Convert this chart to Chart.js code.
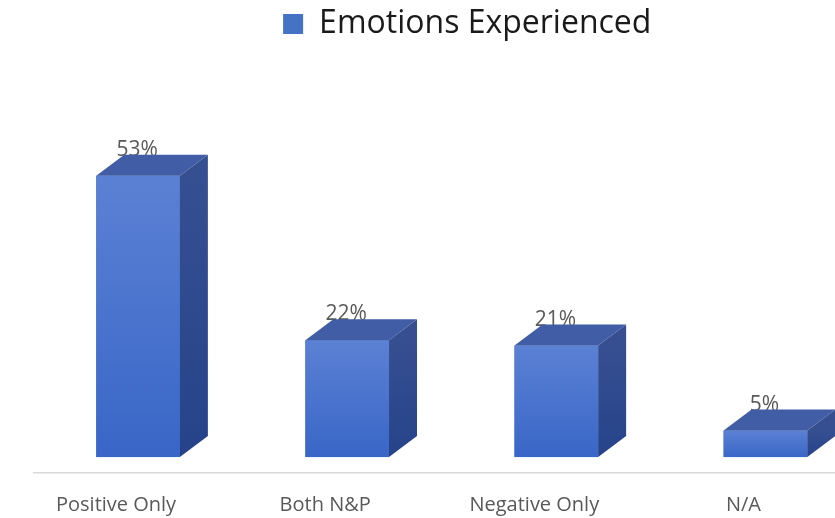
<!DOCTYPE html>
<html>
<head>
<meta charset="utf-8">
<script src="https://cdn.jsdelivr.net/npm/chart.js@4.4.1/dist/chart.umd.min.js"></script>
<style>
  body { margin: 0; overflow: hidden; background: #fff; }
</style>
</head>
<body>
<canvas id="bar" width="901" height="518"></canvas>
<script>
// chart data
const categories = ["Positive Only", "Both N&P", "Negative Only", "N/A"];
const values = [53, 22, 21, 5];
const seriesName = "Emotions Experienced";

// 3d look: depth of the box in px
const depthX = 28;
const depthY = 21;

// draws the front gradient, the value label, then the top and side faces of each bar
const bars3d = {
    id: 'bars3d',
    afterDatasetsDraw(chart) {
        const ctx = chart.ctx;
        const meta = chart.getDatasetMeta(0);
        meta.data.forEach((bar, i) => {
            const p = bar.getProps(['x', 'y', 'base', 'width'], true);
            const left = p.x - p.width / 2;
            const right = p.x + p.width / 2;

            // front face
            const g = ctx.createLinearGradient(0, p.y, 0, p.base);
            g.addColorStop(0, '#5b81d4');
            g.addColorStop(1, '#3966c7');
            ctx.save();
            ctx.fillStyle = g;
            ctx.fillRect(left, p.y, p.width, p.base - p.y);

            // value label (sits behind the top face)
            ctx.fillStyle = '#595959';
            ctx.font = '21px "Open Sans"';
            ctx.textAlign = 'center';
            ctx.textBaseline = 'middle';
            ctx.fillText(values[i] + '%', p.x - 1, p.y - 26);

            // top face
            ctx.fillStyle = '#405da6';
            ctx.beginPath();
            ctx.moveTo(left, p.y);
            ctx.lineTo(left + depthX, p.y - depthY);
            ctx.lineTo(right + depthX, p.y - depthY);
            ctx.lineTo(right, p.y);
            ctx.closePath();
            ctx.fill();

            // side face
            const s = ctx.createLinearGradient(0, p.y, 0, p.base);
            s.addColorStop(0, '#364f91');
            s.addColorStop(1, '#26438a');
            ctx.fillStyle = s;
            ctx.beginPath();
            ctx.moveTo(right, p.y);
            ctx.lineTo(right + depthX, p.y - depthY);
            ctx.lineTo(right + depthX, p.base - depthY);
            ctx.lineTo(right, p.base);
            ctx.closePath();
            ctx.fill();
            ctx.restore();
        });
    }
};

new Chart(document.getElementById('bar'), {
    type: 'bar',
    data: {
        labels: categories,
        datasets: [{
            label: seriesName,
            data: values,
            backgroundColor: '#4472c4',
            borderWidth: 0,
            categoryPercentage: 1,
            barPercentage: 0.4
        }]
    },
    options: {
        responsive: false,
        animation: false,
        devicePixelRatio: 1,
        layout: { padding: { left: 33.5, top: 0, right: 0, bottom: 0 } },
        plugins: {
            legend: {
                display: true,
                position: 'top',
                labels: {
                    color: '#1a1a1a',
                    font: { family: 'Open Sans', size: 32 },
                    boxWidth: 20,
                    boxHeight: 20,
                    padding: 8
                }
            },
            tooltip: { enabled: false }
        },
        scales: {
            x: {
                grid: { display: false },
                border: { display: true, color: '#d9d9d9', width: 1.5 },
                ticks: {
                    color: '#595959',
                    font: { family: 'Open Sans', size: 20 },
                    labelOffset: -22,
                    padding: 12
                },
                afterFit(scale) { scale.height = 45; }
            },
            y: {
                position: 'right',
                min: -3,
                max: 76.7,
                grid: { display: false },
                border: { display: false },
                ticks: { display: false },
                afterFit(scale) { scale.width = 31; }
            }
        }
    },
    plugins: [bars3d]
});
</script>
</body>
</html>
